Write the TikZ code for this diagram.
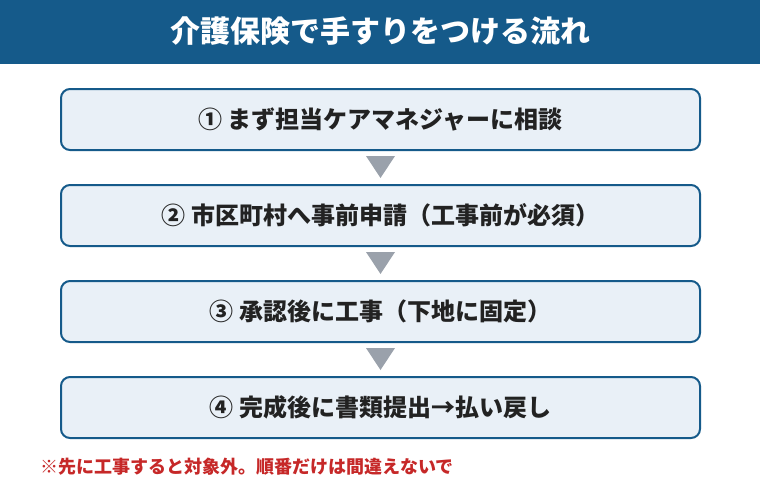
\documentclass[tikz,border=0pt]{standalone}
\usepackage{fontspec}
\usetikzlibrary{calc}
\setmainfont{Noto Sans CJK JP}
\definecolor{titleblue}{HTML}{155A8A}
\definecolor{boxfill}{HTML}{E9F0F7}
\definecolor{txt}{HTML}{222222}
\definecolor{arrowgray}{HTML}{9AA1AB}
\definecolor{notered}{HTML}{C62828}
\begin{document}
\begin{tikzpicture}[x=1pt,y=-1pt,
  stepbox/.style={draw=titleblue,line width=2pt,fill=boxfill,rounded corners=9pt,
    minimum width=639pt,minimum height=61pt,inner sep=0pt,
    font=\fontsize{24}{28}\selectfont\bfseries,text=txt},
  tri/.style={fill=arrowgray,draw=none}]
\useasboundingbox (0,0) rectangle (760,496);
\fill[titleblue] (0,0) rectangle (760,64);
\node[text=white,font=\fontsize{30}{34}\selectfont\bfseries] (title) at (380,31) {介護保険で手すりをつける流れ};
\node[stepbox] (s1) at (380.5,119.5) {① まず担当ケアマネジャーに相談};
\node[stepbox] (s2) at (380.5,215.5) {② 市区町村へ事前申請（工事前が必須）};
\node[stepbox] (s3) at (380.5,311.5) {③ 承認後に工事（下地に固定）};
\node[stepbox] (s4) at (380.5,407.5) {④ 完成後に書類提出→払い戻し};
\foreach \a/\b in {s1/s2,s2/s3,s3/s4}{
  \path (\a.south) ++(0,5) coordinate (t\a);
  \fill[tri] ($(t\a)+(-14.5,0)$) -- ($(t\a)+(14.5,0)$) -- ($(t\a)+(0,22)$) -- cycle;
}
\node[anchor=west,text=notered,font=\fontsize{18}{21}\selectfont\bfseries,inner sep=0pt] (note) at (40,467) {※先に工事すると対象外。順番だけは間違えないで};
\end{tikzpicture}
\end{document}
